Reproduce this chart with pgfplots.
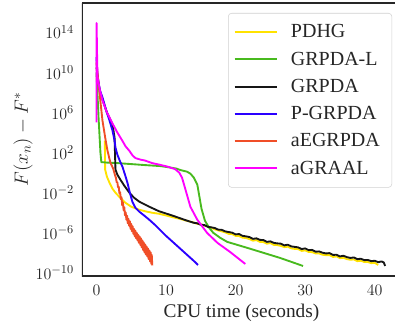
\documentclass[border=0pt]{standalone}
\usepackage{pgfplots}
\pgfplotsset{compat=1.18}
\usepackage{fontspec}
\setmainfont{Liberation Serif}
\definecolor{cPDHG}{RGB}{255,226,0}
\definecolor{cGRL}{RGB}{72,186,30}
\definecolor{cGR}{RGB}{22,22,22}
\definecolor{cPG}{RGB}{42,0,255}
\definecolor{cAE}{RGB}{240,78,40}
\definecolor{cAG}{RGB}{255,0,255}
\definecolor{spine}{RGB}{38,38,38}
\begin{document}
\begin{tikzpicture}
\useasboundingbox (-61.5pt,-39.75pt) rectangle (234.75pt,207pt);
\begin{axis}[
  at={(0,0)}, anchor=south west,
  scale only axis, width=239.25pt, height=204.75pt,
  xmin=-2.08, xmax=43.78, ymin=-10.3, ymax=16.9,
  axis line style={draw=none},
  major tick length=0pt, minor tick num=0,
  xtick={0,10,20,30,40},
  ytick={-10,-6,-2,2,6,10,14},
  yticklabels={$10^{-10}$,$10^{-6}$,$10^{-2}$,$10^{2}$,$10^{6}$,$10^{10}$,$10^{14}$},
  tick label style={font=\fontsize{12.5}{14}\selectfont, text=spine},
  xticklabel style={yshift=-3pt},
  yticklabel style={xshift=-2.5pt},
  xlabel={CPU time (seconds)},
  ylabel={$F(x_n) - F^*$},
  label style={font=\fontsize{14.5}{17}\selectfont, text=spine},
  xlabel style={at={(axis description cs:0.5,-0.136)}, anchor=center},
  ylabel style={at={(axis description cs:-0.185,0.5)}, anchor=center},
  legend cell align=left,
  legend image code/.code={\draw[#1,line width=1.5pt] (0pt,0pt) -- (31.5pt,0pt);},
  legend style={at={(axis description cs:0.4577,0.9634)}, anchor=north west,
    draw=black!18, rounded corners=2.5pt, fill=white,
    font=\fontsize{15}{18}\selectfont, text=spine,
    inner xsep=4pt, inner ysep=6.5pt, row sep=5pt,
    nodes={inner xsep=5pt, inner ysep=2pt},
    /tikz/every odd column/.append style={column sep=5pt}},
  every axis plot/.append style={line width=1.4pt, line join=round},
]
% PDHG
\addplot[cPDHG] coordinates {
(1.2,3.2)(1.25,0.3)(1.5,-0.4)(1.87,-1.0)(2.3,-1.6)(2.73,-2.0)(3.4,-2.5)(4.16,-3.0)(5.0,-3.4)(6.17,-3.7)(7.0,-3.85)(8.03,-4.0)(9.0,-4.1)(9.9,-4.25)(11.0,-4.45)(12.05,-4.62)(13.0,-4.8)
(14.0,-4.98)(14.5,-5.10)(15.0,-5.15)(15.5,-5.28)(16.0,-5.35)(16.5,-5.50)(17.0,-5.65)(17.5,-5.75)(18.0,-5.85)(18.5,-5.95)(19.0,-6.10)(19.5,-6.12)(20.0,-6.30)(20.5,-6.32)(21.0,-6.48)(21.5,-6.52)(22.0,-6.62)(22.5,-6.78)(23.0,-6.72)(23.5,-6.90)(24.0,-6.92)(24.5,-7.08)(25.0,-7.02)(25.5,-7.20)(26.0,-7.22)(26.5,-7.30)(27.0,-7.42)(27.5,-7.38)(28.0,-7.55)(28.5,-7.60)(29.0,-7.62)(29.5,-7.80)(30.0,-7.75)(30.5,-7.90)(31.0,-7.92)(31.5,-8.05)(32.0,-8.05)(32.5,-8.18)(33.0,-8.22)(33.5,-8.22)(34.0,-8.40)(34.5,-8.35)(35.0,-8.52)(35.5,-8.48)(36.0,-8.62)(36.5,-8.68)(37.0,-8.65)(37.5,-8.82)(38.0,-8.78)(38.5,-8.90)(39.0,-8.90)(39.5,-9.02)(40.0,-8.98)(40.5,-9.20)
};
\addlegendentry{PDHG}
% GRPDA-L
\addplot[cGRL] coordinates {
(0,10.0)(0.3,5.5)(0.57,2.0)(0.7,1.05)(1.5,1.0)(3.0,0.95)(5.0,0.85)(7.0,0.75)(9.2,0.65)(10.5,0.52)(11.5,0.4)(12.1,0.25)(13.0,0.1)(13.5,-0.1)(14.0,-0.5)(14.5,-1.2)(14.8,-2.4)(15.1,-3.6)(15.6,-4.8)(16.2,-5.5)(16.8,-6.0)(17.8,-6.5)(18.8,-6.9)(21.7,-7.5)(26.4,-8.5)(29.7,-9.3)
};
\addlegendentry{GRPDA-L}
% GRPDA
\addplot[cGR] coordinates {
(0,10.5)(0.5,8.0)(1.5,6.0)(2.3,4.8)(2.6,3.5)(2.73,0.3)(3.0,-0.2)(3.44,-0.7)(4.0,-1.3)(4.73,-2.0)(5.4,-2.5)(6.17,-2.9)(7.6,-3.4)(9.0,-3.85)(9.9,-4.05)(11.0,-4.3)(12.05,-4.55)(13.0,-4.78)
(14.0,-5.00)(14.5,-5.05)(15.0,-5.20)(15.5,-5.22)(16.0,-5.40)(16.5,-5.45)(17.0,-5.52)(17.5,-5.68)(18.0,-5.70)(18.5,-5.85)(19.0,-5.92)(19.5,-5.98)(20.0,-6.15)(20.5,-6.12)(21.0,-6.30)(21.5,-6.35)(22.0,-6.42)(22.5,-6.60)(23.0,-6.55)(23.5,-6.70)(24.0,-6.72)(24.5,-6.90)(25.0,-6.85)(25.5,-7.00)(26.0,-7.05)(26.5,-7.08)(27.0,-7.25)(27.5,-7.18)(28.0,-7.35)(28.5,-7.40)(29.0,-7.45)(29.5,-7.62)(30.0,-7.55)(30.5,-7.72)(31.0,-7.70)(31.5,-7.88)(32.0,-7.85)(32.5,-7.98)(33.0,-8.05)(33.5,-8.02)(34.0,-8.20)(34.5,-8.18)(35.0,-8.35)(35.5,-8.28)(36.0,-8.42)(36.5,-8.50)(37.0,-8.45)(37.5,-8.62)(38.0,-8.58)(38.5,-8.72)(39.0,-8.70)(39.5,-8.82)(40.0,-8.78)(40.5,-8.92)(41.0,-8.85)(41.3,-8.95)(41.5,-9.30)
};
\addlegendentry{GRPDA}
% P-GRPDA
\addplot[cPG] coordinates {
(0,11.5)(0.15,9.5)(0.5,8.2)(0.86,7.5)(1.4,6.2)(1.87,5.2)(2.3,4.2)(2.6,3.2)(2.73,2.5)(3.0,1.8)(3.4,1.1)(3.73,0.6)(4.1,-0.2)(4.45,-1.0)(4.8,-2.0)(5.16,-2.9)(5.6,-3.5)(6.17,-3.9)(6.9,-4.3)(7.6,-4.7)(8.4,-5.2)(9.2,-5.75)(10.0,-6.3)(10.8,-6.8)(11.6,-7.3)(12.4,-7.8)(13.2,-8.3)(14.0,-8.8)(14.6,-9.2)
};
\addlegendentry{P-GRPDA}
% aEGRPDA
\addplot[cAE] coordinates {
(0,11.0)(0.2,9.5)(0.43,8.0)(0.86,5.2)(1.3,3.3)(1.58,2.2)(2.0,1.0)(2.4,0.4)(2.73,-0.4)
(2.80,-0.50)(2.90,-0.95)(3.00,-0.95)(3.10,-1.45)(3.20,-1.40)(3.30,-2.05)(3.40,-1.95)(3.50,-2.65)(3.60,-2.45)(3.70,-3.25)(3.80,-2.95)(3.90,-3.75)(4.00,-3.45)(4.10,-4.25)(4.20,-3.95)(4.30,-4.70)(4.40,-4.30)(4.50,-5.05)(4.60,-4.60)(4.70,-5.30)(4.80,-4.85)(4.90,-5.60)(5.00,-5.10)(5.10,-5.85)(5.20,-5.35)(5.30,-6.10)(5.40,-5.60)(5.50,-6.35)(5.60,-5.80)(5.70,-6.55)(5.80,-6.00)(5.90,-6.75)(6.00,-6.20)(6.10,-7.00)(6.20,-6.35)(6.30,-7.20)(6.40,-6.55)(6.50,-7.45)(6.60,-6.75)(6.70,-7.70)(6.80,-6.95)(6.90,-7.95)(7.00,-7.15)(7.10,-8.15)(7.20,-7.35)(7.30,-8.35)(7.40,-7.55)(7.50,-8.60)(7.60,-7.75)(7.70,-8.85)(7.80,-7.95)(7.90,-9.10)(7.95,-8.20)(8.03,-9.25)
};
\addlegendentry{aEGRPDA}
% aGRAAL
\addplot[cAG] coordinates {
(0,5.0)(0.02,14.9)(0.08,12.0)(0.15,9.5)(0.5,8.2)(0.86,7.2)(1.5,6.0)(2.3,4.9)(3.0,4.0)(3.7,3.2)(4.2,2.6)(4.7,2.2)(5.2,1.7)(5.6,1.45)(6.3,1.3)(7.0,1.2)(8.0,0.95)(9.0,0.8)(10.2,0.6)(11.3,0.35)(11.9,0.0)(12.3,-0.5)(12.8,-1.7)(13.5,-3.4)(14.5,-4.7)(15.9,-6.0)(17.4,-7.0)(19.2,-7.9)(20.3,-8.5)(21.4,-9.1)
};
\addlegendentry{aGRAAL}
\draw[spine, line width=0.9pt] (rel axis cs:0,1) -- (rel axis cs:0,0) -- (rel axis cs:1,0);
\draw[spine, line width=0.9pt] (rel axis cs:0,1) -- (rel axis cs:1,1);
\end{axis}
\end{tikzpicture}
\end{document}
